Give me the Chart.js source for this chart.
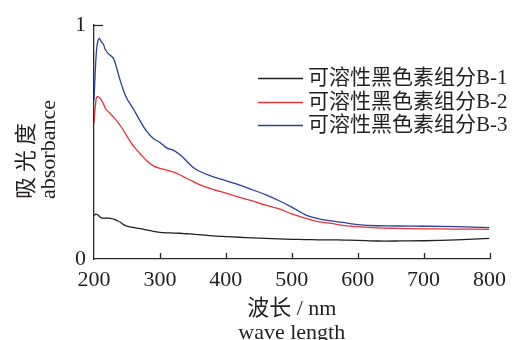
<!DOCTYPE html>
<html>
<head>
<meta charset="utf-8">
<script src="https://cdn.jsdelivr.net/npm/chart.js@4/dist/chart.umd.min.js"></script>
<style>
  html, body { margin: 0; padding: 0; background: #fff; }
  #wrap { width: 514px; height: 340px; }
</style>
</head>
<body>
<div id="wrap"><canvas id="absChart"></canvas></div>
<script>
// Dữ liệu
const wavelengths = [200, 203, 205, 208, 211, 214, 217, 221, 225, 230, 235, 240, 245, 250, 260, 270, 280, 290, 300, 310,
  320, 330, 340, 350, 360, 380, 400, 420, 440, 460, 480, 500, 520, 540, 560, 580, 600, 630, 660, 700, 750, 800];
const seriesB1 = [0.186, 0.192, 0.19, 0.183, 0.176, 0.174, 0.175, 0.175, 0.174, 0.17, 0.164, 0.157, 0.147, 0.14, 0.135, 0.13, 0.124, 0.118, 0.114, 0.112,
  0.111, 0.11, 0.108, 0.106, 0.104, 0.099, 0.096, 0.093, 0.09, 0.088, 0.086, 0.084, 0.083, 0.082, 0.082, 0.081, 0.08, 0.077, 0.077, 0.078, 0.082, 0.088];
const seriesB2 = [0.58, 0.68, 0.694, 0.69, 0.68, 0.665, 0.645, 0.632, 0.62, 0.605, 0.588, 0.57, 0.548, 0.525, 0.482, 0.45, 0.42, 0.398, 0.387, 0.38,
  0.372, 0.36, 0.345, 0.332, 0.318, 0.298, 0.282, 0.264, 0.248, 0.23, 0.215, 0.193, 0.175, 0.16, 0.152, 0.143, 0.138, 0.133, 0.131, 0.129, 0.128, 0.127];
const seriesB3 = [0.68, 0.86, 0.92, 0.943, 0.928, 0.92, 0.895, 0.88, 0.87, 0.855, 0.81, 0.76, 0.718, 0.685, 0.64, 0.59, 0.545, 0.515, 0.498, 0.475,
  0.465, 0.447, 0.42, 0.392, 0.375, 0.352, 0.335, 0.317, 0.296, 0.275, 0.25, 0.222, 0.19, 0.173, 0.163, 0.155, 0.147, 0.142, 0.141, 0.14, 0.138, 0.134];
const seriesLabels = ['可溶性黑色素组分B-1', '可溶性黑色素组分B-2', '可溶性黑色素组分B-3'];
const seriesColors = ['#231f20', '#e2343c', '#2b3f96'];
const xTicks = [200, 300, 400, 500, 600, 700, 800];
const yTicks = [0, 1];
const yTitle = ['吸光度', 'absorbance'];
const xTitle = ['波长 / nm', 'wave length'];

const FONT = "'Liberation Serif', 'Times New Roman', 'Noto Sans CJK SC', serif";
const AXIS = '#2a2a2a';
const INK = '#231f20';

function toPoints(values) {
  return values.map((v, i) => ({ x: wavelengths[i], y: v }));
}

// Vạch chia hướng vào trong, tiêu đề trục y, chú giải
const extras = {
  id: 'extras',
  afterDraw(chart) {
    const ctx = chart.ctx;
    const { x, y } = chart.scales;
    const area = chart.chartArea;
    ctx.save();
    ctx.strokeStyle = AXIS;
    ctx.lineWidth = 1.3;
    xTicks.forEach(t => {
      if (t === 200) return;
      const px = Math.round(x.getPixelForValue(t)) + 0.5;
      ctx.beginPath();
      ctx.moveTo(px, area.bottom);
      ctx.lineTo(px, area.bottom - 6);
      ctx.stroke();
    });
    yTicks.forEach(t => {
      if (t === 0) return;
      const py = Math.round(y.getPixelForValue(t)) + 0.5;
      ctx.beginPath();
      ctx.moveTo(area.left, py);
      ctx.lineTo(area.left + 9, py);
      ctx.stroke();
    });

    // tiêu đề trục y (xoay dọc)
    ctx.fillStyle = INK;
    ctx.textAlign = 'left';
    ctx.font = '22px ' + FONT;
    ctx.save();
    ctx.translate(27, 199);
    ctx.rotate(-Math.PI / 2);
    ctx.textBaseline = 'middle';
    ctx.letterSpacing = '5px';
    ctx.fillText(yTitle[0], 0, 0);
    ctx.restore();
    ctx.save();
    ctx.translate(55, 199);
    ctx.rotate(-Math.PI / 2);
    ctx.textBaseline = 'alphabetic';
    ctx.fillText(yTitle[1], 0, 0);
    ctx.restore();

    // chú giải
    ctx.font = '21px ' + FONT;
    ctx.textBaseline = 'middle';
    const rows = [78, 102, 125];
    seriesLabels.forEach((label, i) => {
      ctx.strokeStyle = seriesColors[i];
      ctx.lineWidth = 1.3;
      ctx.beginPath();
      ctx.moveTo(258, rows[i] + 0.5);
      ctx.lineTo(303, rows[i] + 0.5);
      ctx.stroke();
      ctx.fillStyle = INK;
      ctx.fillText(label, 308, rows[i]);
    });
    ctx.restore();
  }
};

const ctx = document.getElementById('absChart').getContext('2d');
const absChart = new Chart(ctx, {
  type: 'line',
  data: {
    datasets: [
      { label: seriesLabels[0], data: toPoints(seriesB1), borderColor: seriesColors[0] },
      { label: seriesLabels[1], data: toPoints(seriesB2), borderColor: seriesColors[1] },
      { label: seriesLabels[2], data: toPoints(seriesB3), borderColor: seriesColors[2] }
    ]
  },
  options: {
    responsive: true,
    maintainAspectRatio: false,
    animation: false,
    layout: { padding: { top: 25, right: 19, left: 0, bottom: 0 } },
    elements: {
      point: { radius: 0 },
      line: { borderWidth: 1.3, tension: 0.3, fill: false }
    },
    scales: {
      x: {
        type: 'linear',
        min: 200,
        max: 800,
        afterBuildTicks: s => { s.ticks = xTicks.map(v => ({ value: v })); },
        afterFit: s => { s.height = 81; },
        grid: { display: false, drawTicks: false },
        border: { display: true, color: AXIS, width: 1.3 },
        ticks: { padding: 8, color: INK, font: { family: FONT, size: 22 } },
        title: {
          display: true,
          text: xTitle,
          color: INK,
          font: { family: FONT, size: 22, lineHeight: '24px' },
          padding: { top: 0, bottom: -5 }
        }
      },
      y: {
        min: 0,
        max: 1,
        afterBuildTicks: s => { s.ticks = yTicks.map(v => ({ value: v })); },
        afterFit: s => { s.width = 94; },
        grid: { display: false, drawTicks: false },
        border: { display: true, color: AXIS, width: 1.3 },
        ticks: { padding: 8, color: INK, font: { family: FONT, size: 22 } }
      }
    },
    plugins: {
      legend: { display: false },
      tooltip: { enabled: false }
    }
  },
  plugins: [extras]
});
</script>
</body>
</html>
